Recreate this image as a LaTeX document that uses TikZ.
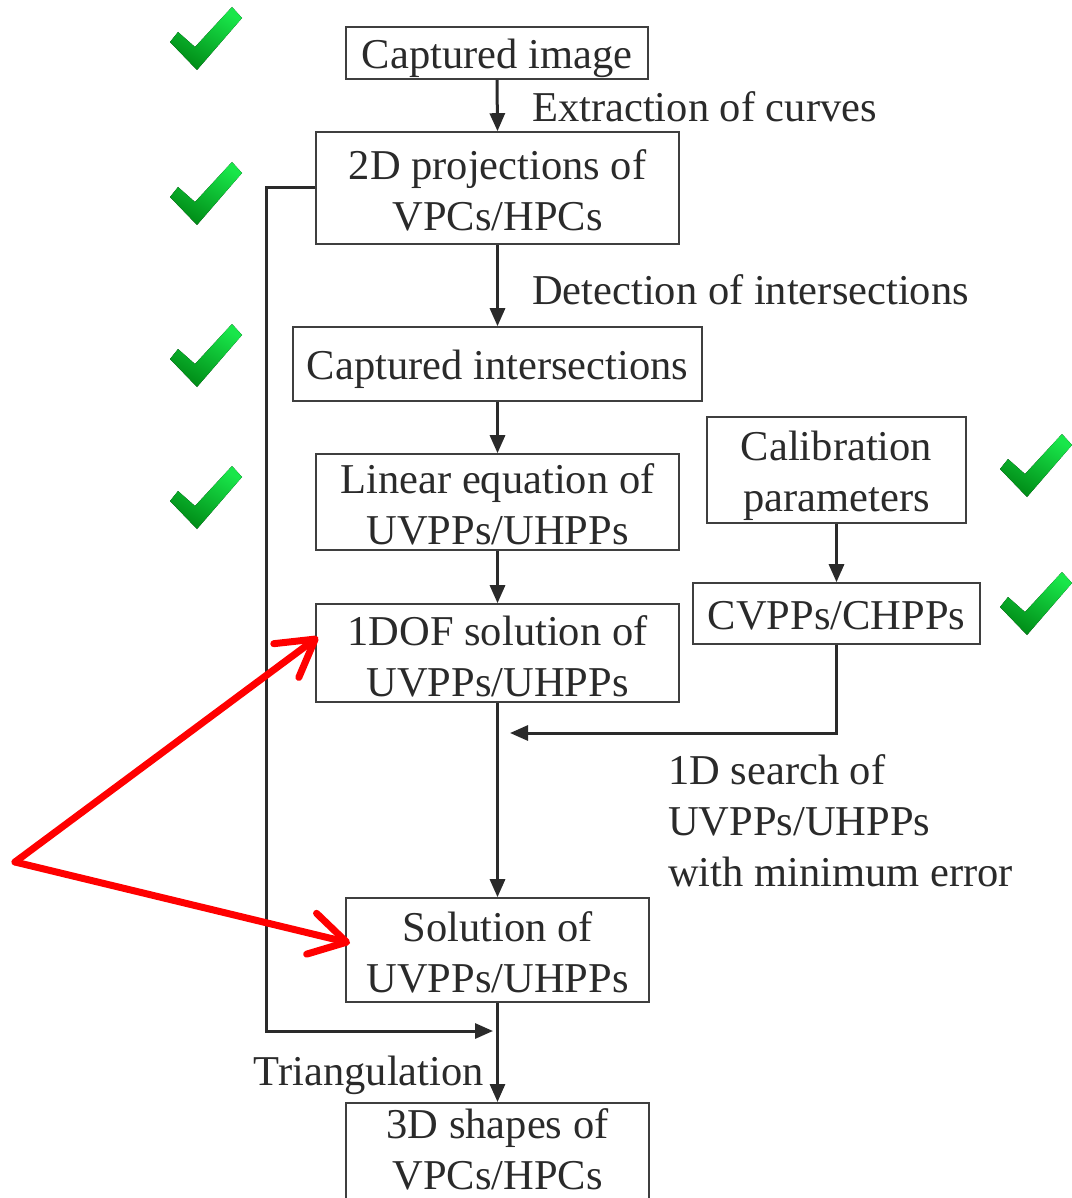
\documentclass[tikz,border=0pt]{standalone}
\usepackage{fontspec}
\setmainfont{Liberation Serif}
\usetikzlibrary{arrows.meta}
\definecolor{ink}{HTML}{2A2A2A}
\definecolor{chkhi}{HTML}{19E64A}
\definecolor{chklo}{HTML}{008A16}
\begin{document}
\begin{tikzpicture}[x=1pt,y=-1pt,
  box/.style={draw=ink!90, line width=1.6pt, inner sep=0pt},
  boxtxt/.style={inner sep=0pt, align=center, font=\fontsize{42.5}{51}\selectfont, text=ink},
  lbl/.style={inner sep=0pt, align=left, font=\fontsize{42.5}{51}\selectfont, text=ink},
  conn/.style={line width=3pt, draw=ink, -{Triangle[length=18pt,width=15pt]}},
  redarrow/.style={line width=7pt, draw={rgb,255:red,255;green,0;blue,0}, line cap=round, line join=round,
    -{Straight Barb[length=36pt,width=42pt,line cap=round,line join=round]}},
  chk/.pic={\fill[top color=chkhi, bottom color=chklo, shading angle=-30]
     (-36,4) -- (-28,-6) -- (-11,9) -- (26,-31) -- (36,-20) -- (-9,32) -- cycle;}
]
\useasboundingbox (0,0) rectangle (1071,1198);

% boxes
\node[box, minimum width=302, minimum height=52,
  label={[boxtxt, yshift=-5pt]center:{Captured image}}] (cap) at (497,53) {};
\node[box, minimum width=363, minimum height=112,
  label={[boxtxt, yshift=-2pt]center:{2D projections of\\VPCs/HPCs}}] (proj) at (497.5,188) {};
\node[box, minimum width=409, minimum height=74,
  label={[boxtxt, yshift=-5pt]center:{Captured intersections}}] (inter) at (497.5,364) {};
\node[box, minimum width=363, minimum height=96,
  label={[boxtxt, yshift=-2pt]center:{Linear equation of\\UVPPs/UHPPs}}] (lin) at (497.5,502) {};
\node[box, minimum width=363, minimum height=98,
  label={[boxtxt, yshift=-3pt]center:{1DOF solution of\\UVPPs/UHPPs}}] (dof) at (497.5,653) {};
\node[box, minimum width=303, minimum height=104,
  label={[boxtxt, yshift=-2pt]center:{Solution of\\UVPPs/UHPPs}}] (sol) at (497.5,950) {};
\node[box, minimum width=303, minimum height=104, anchor=north,
  label={[boxtxt, yshift=5pt]center:{3D shapes of\\VPCs/HPCs}}] (shp) at (497.5,1102) {};
\node[box, minimum width=259, minimum height=106,
  label={[boxtxt, yshift=-6pt]center:{Calibration\\parameters}}] (cal) at (836.5,470) {};
\node[box, minimum width=287, minimum height=61,
  label={[boxtxt, yshift=-2pt]center:{CVPPs/CHPPs}}] (cv) at (836.5,613.5) {};

% coordinates for connector ends
\coordinate (j1) at (510,733);
\coordinate (j2) at (493,1031);

% connectors
\draw[conn] (cap.south) -- (proj.north);
\draw[conn] (proj.south) -- (inter.north);
\draw[conn] (inter.south) -- (lin.north);
\draw[conn] (lin.south) -- (dof.north);
\draw[conn] (cal.south) -- (cv.north);
\draw[conn] (dof.south) -- (sol.north);
\draw[conn] (sol.south) -- (shp.north);
\draw[conn] (cv.south) |- (j1);
\draw[conn] (proj.west) -- ++(-49,0) |- (j2);

% labels
\node[lbl, anchor=base west] (l1) at (532,122) {Extraction of curves};
\node[lbl, anchor=base west] (l2) at (532,304) {Detection of intersections};
\node[lbl, anchor=north west] (l3) at (668,754) {1D search of\\UVPPs/UHPPs\\with minimum error};
\node[lbl, anchor=base east] (l4) at (484,1085) {Triangulation};

% red arrows
\coordinate (rs) at (15,862);
\coordinate (rt1) at (318,637);
\coordinate (rt2) at (350,943);
\draw[redarrow] (rs) -- (rt1);
\draw[redarrow] (rs) -- (rt2);

% check marks
\pic at (206,38) {chk};
\pic at (206,193) {chk};
\pic at (206,355) {chk};
\pic at (206,497) {chk};
\pic at (1036,465) {chk};
\pic at (1036,603) {chk};
\end{tikzpicture}
\end{document}
